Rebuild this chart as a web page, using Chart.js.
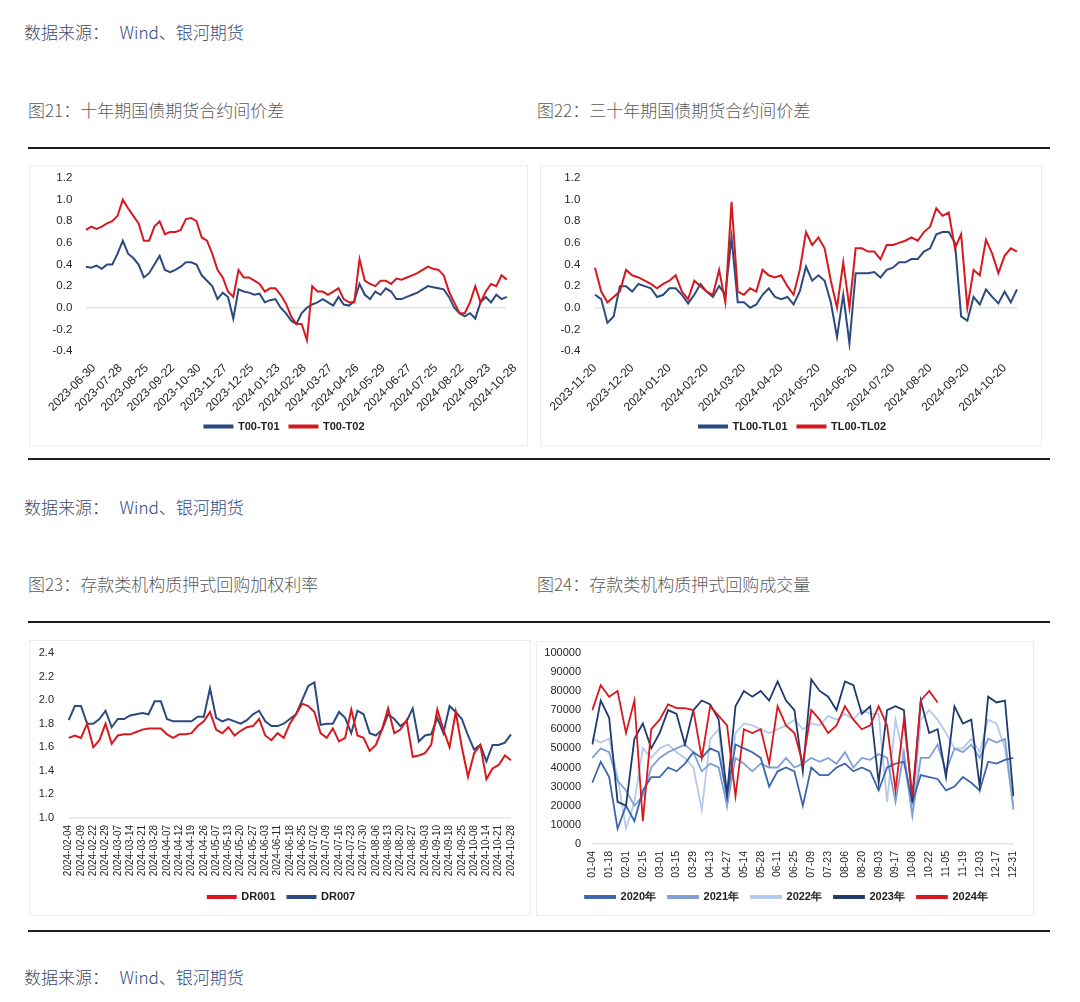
<!DOCTYPE html>
<html><head><meta charset="utf-8">
<script src="https://cdn.jsdelivr.net/npm/chart.js@4.4.1/dist/chart.umd.min.js"></script>
<style>
body{margin:0;background:#fff;width:1080px;height:1002px;position:relative;overflow:hidden;font-family:"Noto Sans CJK SC","Noto Sans",sans-serif;}
.src{position:absolute;left:24px;font-size:17px;line-height:22px;color:#3b4868;font-weight:300;white-space:pre;}
.src span{color:#2f4a86;margin-left:3px;}
.ttl{position:absolute;font-size:17px;line-height:22px;color:#5a5a5a;font-weight:300;white-space:pre;}
.rule{position:absolute;left:28px;width:1022px;height:2px;background:#1c1c1c;}
.box{position:absolute;border:1px solid #ececec;box-sizing:border-box;}
.box canvas{display:block;}
</style></head>
<body>
<div class="src" style="top:21px">数据来源：  <span>Wind、银河期货</span></div>
<div class="ttl" style="left:28px;top:99px">图21：十年期国债期货合约间价差</div>
<div class="ttl" style="left:537px;top:99px">图22：三十年期国债期货合约间价差</div>
<div class="rule" style="top:147px"></div>
<div class="box" style="left:29px;top:165px;width:499px;height:281px"><canvas id="c1"></canvas></div>
<div class="box" style="left:540px;top:165px;width:502px;height:281px"><canvas id="c2"></canvas></div>
<div class="rule" style="top:458px"></div>
<div class="src" style="top:496px">数据来源：  <span>Wind、银河期货</span></div>
<div class="ttl" style="left:28px;top:573px">图23：存款类机构质押式回购加权利率</div>
<div class="ttl" style="left:537px;top:573px">图24：存款类机构质押式回购成交量</div>
<div class="rule" style="top:621px"></div>
<div class="box" style="left:29px;top:640px;width:502px;height:276px"><canvas id="c3"></canvas></div>
<div class="box" style="left:536px;top:641px;width:498px;height:275px"><canvas id="c4"></canvas></div>
<div class="rule" style="top:930px"></div>
<div class="src" style="top:966px">数据来源：  <span>Wind、银河期货</span></div>
<script>
const BLUE = '#2c4a7f';
const RED = '#d7191f';

// ---- Chart 21 ----
const t1Ticks = ['2023-06-30','2023-07-28','2023-08-25','2023-09-22','2023-10-30','2023-11-27','2023-12-25','2024-01-23','2024-02-28','2024-03-27','2024-04-26','2024-05-29','2024-06-27','2024-07-25','2024-08-22','2024-09-23','2024-10-28'];
const t00t01 = [0.38,0.37,0.39,0.36,0.40, 0.40,0.50,0.62,0.50,0.46, 0.40,0.28,0.32,0.40,0.48, 0.35,0.33,0.35,0.38,0.42,
  0.42,0.40,0.30,0.25,0.20, 0.08,0.14,0.10,-0.10,0.17, 0.15,0.14,0.12,0.13,0.05, 0.07,0.08,0.00,-0.05,-0.12,
  -0.15,-0.05,0.00,0.03,0.05, 0.08,0.05,0.02,0.10,0.03, 0.02,0.06,0.22,0.12,0.08, 0.15,0.12,0.18,0.15,0.08,
  0.08,0.10,0.12,0.14,0.17, 0.20,0.19,0.18,0.17,0.10, 0.00,-0.05,-0.08,-0.05,-0.10, 0.05,0.10,0.05,0.12,0.08, 0.10];
const t00t02 = [0.72,0.75,0.73,0.75,0.78, 0.80,0.85,1.00,0.92,0.85, 0.78,0.62,0.62,0.75,0.80, 0.68,0.70,0.70,0.72,0.82,
  0.83,0.80,0.65,0.62,0.50, 0.35,0.28,0.15,0.10,0.35, 0.28,0.28,0.25,0.22,0.15, 0.18,0.18,0.12,0.04,-0.08,
  -0.15,-0.15,-0.30,0.20,0.15, 0.15,0.12,0.15,0.18,0.08, 0.05,0.05,0.45,0.25,0.22, 0.20,0.25,0.25,0.22,0.27,
  0.26,0.28,0.30,0.32,0.35, 0.38,0.36,0.35,0.30,0.15, 0.05,-0.05,-0.05,0.05,0.20, 0.05,0.15,0.22,0.20,0.30, 0.26];

// ---- Chart 22 ----
const t2Ticks = ['2023-11-20','2023-12-20','2024-01-20','2024-02-20','2024-03-20','2024-04-20','2024-05-20','2024-06-20','2024-07-20','2024-08-20','2024-09-20','2024-10-20'];
const tl00tl01 = [0.12,0.08,-0.14,-0.08,0.20,0.20, 0.15,0.22,0.20,0.18,0.10,0.12, 0.18,0.18,0.12,0.04,0.12,0.22,
  0.15,0.10,0.20,0.12,0.65,0.05, 0.05,0.00,0.03,0.12,0.18,0.10, 0.08,0.10,0.03,0.15,0.38,0.25,
  0.30,0.25,0.05,-0.27,0.12,-0.33, 0.32,0.32,0.32,0.33,0.28,0.35, 0.37,0.42,0.42,0.45,0.45,0.52,
  0.55,0.68,0.70,0.70,0.60,-0.08, -0.12,0.10,0.03,0.17,0.10,0.04, 0.15,0.05,0.17];
const tl00tl02 = [0.37,0.15,0.05,0.10,0.15,0.35, 0.30,0.28,0.25,0.22,0.18,0.22, 0.25,0.30,0.15,0.08,0.25,0.20,
  0.15,0.12,0.35,0.05,0.98,0.15, 0.12,0.18,0.15,0.35,0.30,0.28, 0.30,0.20,0.12,0.35,0.70,0.58,
  0.65,0.55,0.25,0.00,0.42,0.00, 0.55,0.55,0.52,0.52,0.45,0.58, 0.58,0.60,0.62,0.65,0.62,0.70,
  0.75,0.92,0.85,0.88,0.55,0.68, 0.00,0.35,0.30,0.63,0.50,0.32, 0.48,0.55,0.52];

// ---- Chart 23 ----
const t3Ticks = ['2024-02-04','2024-02-09','2024-02-22','2024-02-29','2024-03-07','2024-03-14','2024-03-21','2024-03-28','2024-04-07','2024-04-12','2024-04-19','2024-04-26','2024-05-07','2024-05-13','2024-05-20','2024-05-27','2024-06-03','2024-06-11','2024-06-18','2024-06-25','2024-07-02','2024-07-09','2024-07-16','2024-07-23','2024-07-30','2024-08-06','2024-08-13','2024-08-20','2024-08-27','2024-09-03','2024-09-10','2024-09-18','2024-09-25','2024-10-08','2024-10-14','2024-10-21','2024-10-28'];
const dr001 = [1.68,1.70,1.68,1.80,1.60,1.66,1.80,1.63,1.70,1.71, 1.71,1.73,1.75,1.76,1.76,1.76,1.71,1.68,1.71,1.71,
  1.72,1.78,1.82,1.90,1.75,1.72,1.77,1.70,1.74,1.77, 1.78,1.84,1.70,1.66,1.72,1.68,1.80,1.88,1.97,1.95,
  1.90,1.72,1.68,1.76,1.65,1.68,1.92,1.70,1.68,1.57, 1.62,1.75,1.93,1.72,1.75,1.83,1.52,1.53,1.55,1.62,
  1.92,1.75,1.60,1.90,1.60,1.35,1.55,1.62,1.33,1.42, 1.45,1.53,1.49];
const dr007 = [1.83,1.95,1.95,1.80,1.80,1.84,1.91,1.77,1.84,1.84, 1.87,1.88,1.89,1.88,1.99,1.99,1.84,1.82,1.82,1.82,
  1.82,1.86,1.86,2.10,1.85,1.82,1.84,1.82,1.80,1.83, 1.88,1.91,1.82,1.78,1.78,1.80,1.84,1.88,2.00,2.12,
  2.15,1.79,1.80,1.80,1.90,1.85,1.72,1.91,1.88,1.72, 1.70,1.75,1.88,1.84,1.78,1.82,1.93,1.65,1.70,1.71,
  1.85,1.72,1.95,1.90,1.84,1.70,1.58,1.62,1.48,1.62, 1.62,1.64,1.71];

// ---- Chart 24 ----
const t4Ticks = ['01-04','01-18','02-01','02-15','03-01','03-15','03-29','04-13','04-27','05-14','05-28','06-11','06-25','07-09','07-23','08-06','08-20','09-03','09-17','10-08','10-22','11-05','11-19','12-03','12-17','12-31'];
const v2020 = [32000,43000,35000,8000,20000,12000,28000,35000,35000,40000, 38000,42000,48000,45000,50000,48000,25000,52000,50000,48000,
  45000,30000,38000,40000,38000,20000,40000,36000,36000,40000, 42000,38000,40000,38000,28000,40000,42000,43000,22000,36000,
  35000,34000,28000,30000,35000,32000,28000,43000,42000,44000, 45000];
const v2021 = [45000,50000,48000,33000,28000,20000,25000,40000,45000,48000, 50000,52000,48000,38000,42000,40000,20000,45000,42000,38000,
  42000,40000,40000,45000,40000,42000,45000,43000,45000,42000, 48000,40000,45000,44000,47000,45000,22000,48000,15000,45000,
  45000,52000,38000,50000,48000,52000,45000,55000,53000,55000, 18000];
const v2022 = [55000,53000,55000,35000,8000,22000,50000,45000,50000,52000, 48000,45000,40000,18000,55000,60000,20000,58000,63000,62000,
  60000,58000,60000,62000,65000,60000,63000,62000,67000,65000, 68000,65000,70000,68000,68000,22000,65000,45000,15000,65000,
  70000,65000,58000,50000,50000,55000,48000,65000,63000,50000, 20000];
const v2023 = [52000,75000,66000,22000,20000,55000,63000,50000,58000,70000, 68000,52000,70000,75000,73000,65000,26000,72000,80000,77000,
  80000,75000,85000,75000,70000,38000,86000,80000,77000,70000, 85000,83000,68000,72000,32000,70000,72000,70000,22000,75000,
  58000,60000,35000,72000,63000,65000,30000,77000,74000,75000, 25000];
const v2024 = [70000,83000,77000,80000,58000,75000,12000,60000,65000,73000, 71000,71000,70000,45000,72000,67000,62000,25000,60000,58000,
  60000,42000,72000,62000,58000,42000,70000,65000,58000,62000, 72000,65000,60000,62000,72000,62000,28000,65000,25000,75000,
  80000,74000];

function catLabels(ticks, n, step){
  const out = [];
  for (let i = 0; i < n; i++) out.push(i % step === 0 && ticks[i/step] !== undefined ? ticks[i/step] : '');
  return out;
}
const FONT = 'Liberation Sans';
const CLEAR = 'rgba(0,0,0,0)';
function ds(label, data, color, order, w){
  return {label, data, borderColor: color, backgroundColor: color, borderWidth: w || 2, pointRadius: 0, tension: 0, fill: false, order};
}
function make(id, labels, datasets, c){
  return new Chart(document.getElementById(id), {
    type: 'line',
    data: {labels, datasets},
    plugins: [{id: 'legendShift', afterLayout(chart){ const l = chart.legend; if (l) { l.left += c.legDx; l.right += c.legDx; } }}],
    options: {
      responsive: true, maintainAspectRatio: false, animation: false,
      layout: {padding: c.pad},
      plugins: {
        tooltip: {enabled: false},
        legend: {position: 'bottom', labels: {boxWidth: c.boxW, boxHeight: 2, padding: c.legPad,
          font: {family: FONT, size: 11, weight: 'bold'}, color: '#222',
          sort: (a, b) => a.datasetIndex - b.datasetIndex}}
      },
      scales: {
        x: {grid: {display: false, drawTicks: false}, border: {display: false},
            ticks: {autoSkip: false, maxRotation: c.rot, minRotation: c.rot, padding: c.xPad, labelOffset: c.xOff || 0,
                    font: {family: FONT, size: c.xFont}, color: '#262626'},
            afterFit: s => { s.height = c.xH; }},
        y: {min: c.min, max: c.max, border: {display: false},
            grid: {drawTicks: true, tickLength: c.yTick, tickColor: CLEAR, lineWidth: 1.5,
                   color: ctx => (ctx.tick && Math.abs(ctx.tick.value - c.base) < 1e-9) ? '#e4e4e4' : CLEAR},
            ticks: {stepSize: c.step, padding: 4, font: {family: FONT, size: c.yFont}, color: '#262626', callback: c.fmt},
            afterFit: s => { s.width = c.yW; }}
      }
    }
  });
}
const f1 = v => Number(v).toFixed(1);

make('c1', catLabels(t1Ticks, t00t01.length, 5),
  [ds('T00-T01', t00t01, BLUE, 1), ds('T00-T02', t00t02, RED, 0)],
  {pad: {top: 12, right: 19, left: 0, bottom: 3}, boxW: 28, legPad: 10, legDx: 15.5, rot: 45, xPad: 10, xOff: 8, xFont: 12, xH: 60,
   min: -0.4, max: 1.2, step: 0.2, base: 0, yTick: 9.7, yFont: 11.5, yW: 56, fmt: f1});

make('c2', catLabels(t2Ticks, tl00tl01.length, 6),
  [ds('TL00-TL01', tl00tl01, BLUE, 1), ds('TL00-TL02', tl00tl02, RED, 0)],
  {pad: {top: 12, right: 24, left: 0, bottom: 3}, boxW: 28, legPad: 10, legDx: 13.5, rot: 45, xPad: 10, xFont: 12, xH: 60,
   min: -0.4, max: 1.2, step: 0.2, base: 0, yTick: 10.7, yFont: 11.5, yW: 54, fmt: f1});

make('c3', catLabels(t3Ticks, dr001.length, 2),
  [ds('DR001', dr001, RED, 0), ds('DR007', dr007, BLUE, 1)],
  {pad: {top: 12, right: 15, left: 0, bottom: 2.5}, boxW: 28, legPad: 12, legDx: 9, rot: 90, xPad: 7, xFont: 10, xH: 61.5,
   min: 1.0, max: 2.4, step: 0.2, base: 1.0, yTick: 10.7, yFont: 11, yW: 38.7, fmt: f1});

make('c4', catLabels(t4Ticks, v2020.length, 2),
  [ds('2020年', v2020, '#3e66ad', 2, 1.8), ds('2021年', v2021, '#7f9fd6', 3, 1.8), ds('2022年', v2022, '#b5c9ec', 4, 1.8),
   ds('2023年', v2023, '#1f3a6c', 1, 1.8), ds('2024年', v2024, RED, 0, 1.8)],
  {pad: {top: 10.7, right: 14, left: 0, bottom: 2.5}, boxW: 30, legPad: 12, legDx: 8.5, rot: 90, xPad: 7, xFont: 10.5, xH: 35.5,
   min: 0, max: 100000, step: 10000, base: 0, yTick: 7.3, yFont: 11, yW: 55.3, fmt: v => String(v)});
</script>
</body></html>
